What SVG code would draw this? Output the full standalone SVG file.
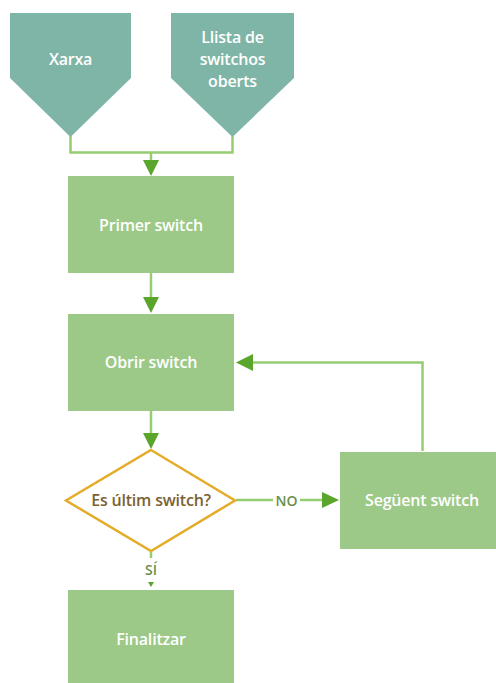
<svg xmlns="http://www.w3.org/2000/svg" width="496" height="683" viewBox="0 0 496 683">
  <style>
    .input { fill: #7fb5a6; }
    .proc { fill: #9cc987; }
    .dec { fill: #ffffff; stroke: #e5ac2a; stroke-width: 2.5; }
    .lbl { font-family: "Open Sans", "Noto Sans", sans-serif; font-weight: 600; font-size: 16px; fill: #ffffff; text-anchor: middle; dominant-baseline: central; letter-spacing: -0.2px; }
    .declbl { font-family: "Open Sans", "Noto Sans", sans-serif; font-weight: 600; font-size: 16px; fill: #7a6232; text-anchor: middle; dominant-baseline: central; letter-spacing: -0.2px; }
    .edgelbl { font-family: "Open Sans", "Noto Sans", sans-serif; font-weight: 600; font-size: 14px; fill: #66904c; text-anchor: middle; dominant-baseline: central; }
    .wire { fill: none; stroke: #95cd70; stroke-width: 2.5; }
    .head { fill: #5aa62c; }
  </style>

  <g id="connectors">
    <!-- inputs merge into Primer switch -->
    <path class="wire" d="M70.5,136 V152.5 H232.5 V136"/>
    <path class="wire" d="M151,152.5 V162"/>
    <polygon class="head" points="143,160 159,160 151,176"/>
    <!-- Primer switch -> Obrir switch -->
    <path class="wire" d="M151,273 V299"/>
    <polygon class="head" points="143,297 159,297 151,313"/>
    <!-- Obrir switch -> decision -->
    <path class="wire" d="M151,411 V435"/>
    <polygon class="head" points="143,433 159,433 151,449"/>
    <!-- NO branch -->
    <path class="wire" d="M236,500 H273"/>
    <path class="wire" d="M300,500 H323"/>
    <polygon class="head" points="322,492 322,508 339,500"/>
    <text class="edgelbl" x="286.5" y="500">NO</text>
    <!-- loop back to Obrir switch -->
    <path class="wire" d="M422.5,451 V362.5 H252"/>
    <polygon class="head" points="253,354 253,371 236,362.5"/>
    <!-- SÍ branch -->
    <path class="wire" d="M151,551 V558"/>
    <text class="edgelbl" x="151" y="569">SÍ</text>
    <polygon class="head" points="148,582 154,582 151,587"/>
  </g>

  <g id="xarxa">
    <polygon class="input" points="10,13 131,13 131,78 70.5,137 10,78"/>
    <text class="lbl" x="70.5" y="59">Xarxa</text>
  </g>

  <g id="llista">
    <polygon class="input" points="171,13 294,13 294,78 232.5,137 171,78"/>
    <text class="lbl" x="232.5" y="37">Llista de</text>
    <text class="lbl" x="232.5" y="59">switchos</text>
    <text class="lbl" x="232.5" y="81">oberts</text>
  </g>

  <g id="primer">
    <rect class="proc" x="68" y="176" width="166" height="97"/>
    <text class="lbl" x="151" y="225">Primer switch</text>
  </g>

  <g id="obrir">
    <rect class="proc" x="68" y="314" width="166" height="97"/>
    <text class="lbl" x="151" y="362">Obrir switch</text>
  </g>

  <g id="decisio">
    <polygon class="dec" points="151,450 235,500.5 151,551 66,500.5"/>
    <text class="declbl" x="151" y="500">Es últim switch?</text>
  </g>

  <g id="seguent">
    <rect class="proc" x="340" y="452" width="156" height="97"/>
    <text class="lbl" x="422" y="500">Següent switch</text>
  </g>

  <g id="finalitzar">
    <rect class="proc" x="68" y="590" width="166" height="93"/>
    <text class="lbl" x="151" y="639">Finalitzar</text>
  </g>
</svg>
